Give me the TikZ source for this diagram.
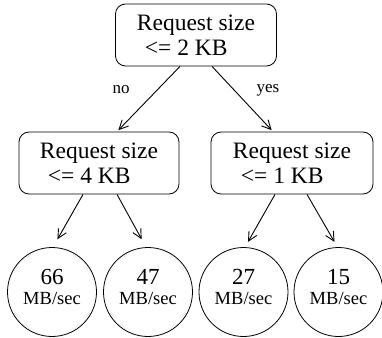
\documentclass[tikz,border=0pt]{standalone}
\usepackage{fontspec}
\setmainfont{Liberation Serif}
\usetikzlibrary{arrows.meta}
\begin{document}
\begin{tikzpicture}[x=1pt,y=-1pt,
  every node/.style={inner sep=0pt},
  decbox/.style={draw, line width=0.8pt, rounded corners=10pt, minimum height=62pt, align=left, font=\fontsize{23.5}{25}\selectfont},
  leaf/.style={draw, circle, line width=0.8pt, minimum size=89pt, align=center, text depth=10pt, font=\fontsize{23}{22}\selectfont},
  arr/.style={line width=0.9pt, -{Straight Barb[length=9pt,width=9pt]}},
  lbl/.style={font=\fontsize{17}{20}\selectfont}]
\useasboundingbox (0,0) rectangle (382,337);
\newcommand{\unit}{\\[-2pt]{\fontsize{18.5}{20}\selectfont MB/sec}}
\node[decbox, minimum width=161pt] (top) at (196,35) {Request size\\\hspace{8pt}<= 2 KB};
\node[decbox, minimum width=160pt] (lb) at (99,163) {Request size\\\hspace{8pt}<= 4 KB};
\node[decbox, minimum width=162pt] (rb) at (292,163) {Request size\\\hspace{8pt}<= 1 KB};
\node[leaf] (c1) at (52,292) {66\unit};
\node[leaf] (c2) at (148,292) {47\unit};
\node[leaf] (c3) at (243.5,292) {27\unit};
\node[leaf] (c4) at (338.5,292) {15\unit};
\draw[arr, shorten >=2pt] ([xshift=-16pt]top.south) -- ([xshift=18pt]lb.north);
\draw[arr, shorten >=2pt] ([xshift=16pt]top.south) -- ([xshift=-19pt]rb.north);
\draw[arr, shorten >=9pt] ([xshift=-16pt]lb.south) -- ([xshift=1pt]c1.north);
\draw[arr, shorten >=9pt] ([xshift=18pt]lb.south) -- ([xshift=-2pt]c2.north);
\draw[arr, shorten >=6pt] ([xshift=-17pt]rb.south) -- ([xshift=1.5pt]c3.north);
\draw[arr, shorten >=6pt] ([xshift=15pt]rb.south) -- ([xshift=-1pt]c4.north);
\node[lbl] (lno) at (121,90) {no};
\node[lbl] (lyes) at (268,90) {yes};
\end{tikzpicture}
\end{document}
